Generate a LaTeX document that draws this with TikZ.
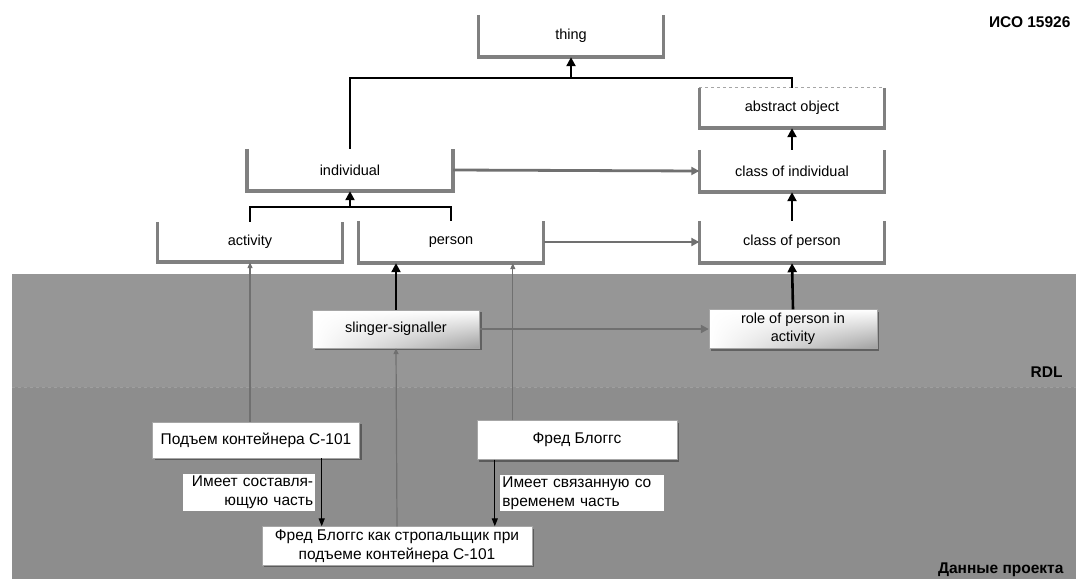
\documentclass[tikz,border=0pt]{standalone}
\usepackage{fontspec}
\setmainfont{Liberation Sans}
\usetikzlibrary{arrows.meta,shadows,shadings}
\definecolor{framegray}{RGB}{128,128,128}
\definecolor{linkgray}{RGB}{112,112,112}
\definecolor{rdlgray}{RGB}{150,150,150}
\definecolor{datagray}{RGB}{141,141,141}

\begin{document}
\begin{tikzpicture}[x=1pt, y=-1pt,
    every node/.style={font=\fontsize{14.5}{18}\selectfont},
    classbox/.style={minimum width=185pt, minimum height=42pt, inner sep=0pt},
    databox/.style={fill=white, draw=gray!70, thin, inner sep=3pt, align=center,
        font=\fontsize{15.5}{19}\selectfont,
        drop shadow={shadow xshift=2pt, shadow yshift=-2pt, fill=black, opacity=0.35}},
    rolebox/.style={databox, font=\fontsize{14.5}{18}\selectfont,
        upper left=white, upper right=white, lower left=white, lower right=gray!75},
    bracket/.style={framegray, line width=3.5pt},
    subtype/.style={line width=2.6pt, -{Triangle[length=9pt, width=9pt]}},
    classof/.style={linkgray, line width=2.8pt, -{Triangle[length=8pt, width=8pt]}},
    member/.style={linkgray, line width=1.2pt, -{Triangle[length=6pt, width=5pt]}},
    haspart/.style={line width=1.2pt, -{Triangle[length=8pt, width=6pt]}},
    partlabel/.style={fill=white, inner sep=2pt, font=\fontsize{15.5}{19}\selectfont},
    tag/.style={font=\fontsize{15.5}{18}\selectfont\bfseries}
]
    \useasboundingbox (0,0) rectangle (1076,579);

    % Области RDL и данных проекта
    \fill[white] (0,0) rectangle (1076,579);
    \fill[rdlgray] (12,274) rectangle (1076,387);
    \fill[datagray] (12,387) rectangle (1076,579);
    \draw[dashed, gray!75] (12,387) -- (1076,387);

    % Классы RDL
    \node[classbox] (thing) at (571,36) {thing};
    \node[classbox, minimum height=40pt] (abstract) at (792,108) {abstract object};
    \node[classbox] (classind) at (792,171) {class of individual};
    \node[classbox] (classperson) at (792,242) {class of person};
    \node[classbox, minimum width=206pt] (individual) at (350,170) {individual};
    \node[classbox, minimum height=40pt] (activity) at (250,242) {activity};
    \node[classbox] (person) at (451,242) {person};

    \foreach \n in {thing, abstract, classind, classperson, individual, activity, person} {
        \draw[bracket] (\n.north west) -- (\n.south west) -- (\n.south east) -- (\n.north east);
    }
    \draw[dashed, framegray!70, thick] (abstract.north west) -- (abstract.north east);

    % Роли
    \node[rolebox, minimum width=167pt, minimum height=38pt] (slinger) at (396,329) {slinger-signaller};
    \node[rolebox, minimum width=168pt, minimum height=39pt] (role) at (793,329) {role of person in\\activity};

    % Данные проекта
    \node[databox, minimum width=207pt, minimum height=36pt] (lifting) at (256,440) {Подъем контейнера С-101};
    \node[databox, minimum width=200pt, minimum height=39pt] (fred) at (577,440) {Фред Блоггс};
    \node[databox, minimum width=270pt, minimum height=38pt] (fredslinger) at (397,546) {Фред Блоггс как стропальщик при\\подъеме контейнера С-101};

    % Подтипы
    \coordinate (topjoin) at (571,78);
    \coordinate (midjoin) at (350,207);
    \draw[line width=2.6pt] (individual.north) |- (topjoin) -| (abstract.north);
    \draw[subtype] (topjoin) -- (thing.south);
    \draw[line width=2.6pt] (activity.north) |- (midjoin) -| (person.north);
    \draw[subtype] (midjoin) -- (individual.south);
    \draw[subtype] (classind.north) -- (abstract.south);
    \draw[subtype] (classperson.north) -- (classind.south);
    \draw[subtype] (role.north) -- (classperson.south);
    \draw[subtype] (slinger.north) -- (slinger.north |- person.south);

    % Классификация
    \draw[classof] (individual.east) -- (classind.west);
    \draw[classof] (person.east) -- (classperson.west);
    \draw[classof] (slinger.east) -- (role.west);

    % Экземпляры
    \draw[member] (activity.south |- lifting.north) -- (activity.south);
    \draw[member] ([xshift=36pt]fred.north west) -- ([xshift=36pt]fred.north west |- person.south);
    \draw[member] (fredslinger.north) -- (slinger.south);

    % Части
    \draw[haspart] ([xshift=-38pt]lifting.south east) -- ([xshift=-38pt]lifting.south east |- fredslinger.north)
        node[midway, left=6pt, partlabel, text width=128pt, align=right] {Имеет составля-\\ющую часть};
    \draw[haspart] ([xshift=18pt]fred.south west) -- ([xshift=18pt]fred.south west |- fredslinger.north)
        node[midway, right=5pt, partlabel, text width=160pt, align=left] {Имеет связанную со\\временем часть};

    % Подписи
    \node[tag, anchor=east] (iso) at (1074,22) {ИСО 15926};
    \node[tag, anchor=east] (rdl) at (1066,372) {RDL};
    \node[tag, anchor=east] (project) at (1067,570) {Данные проекта};
\end{tikzpicture}
\end{document}
